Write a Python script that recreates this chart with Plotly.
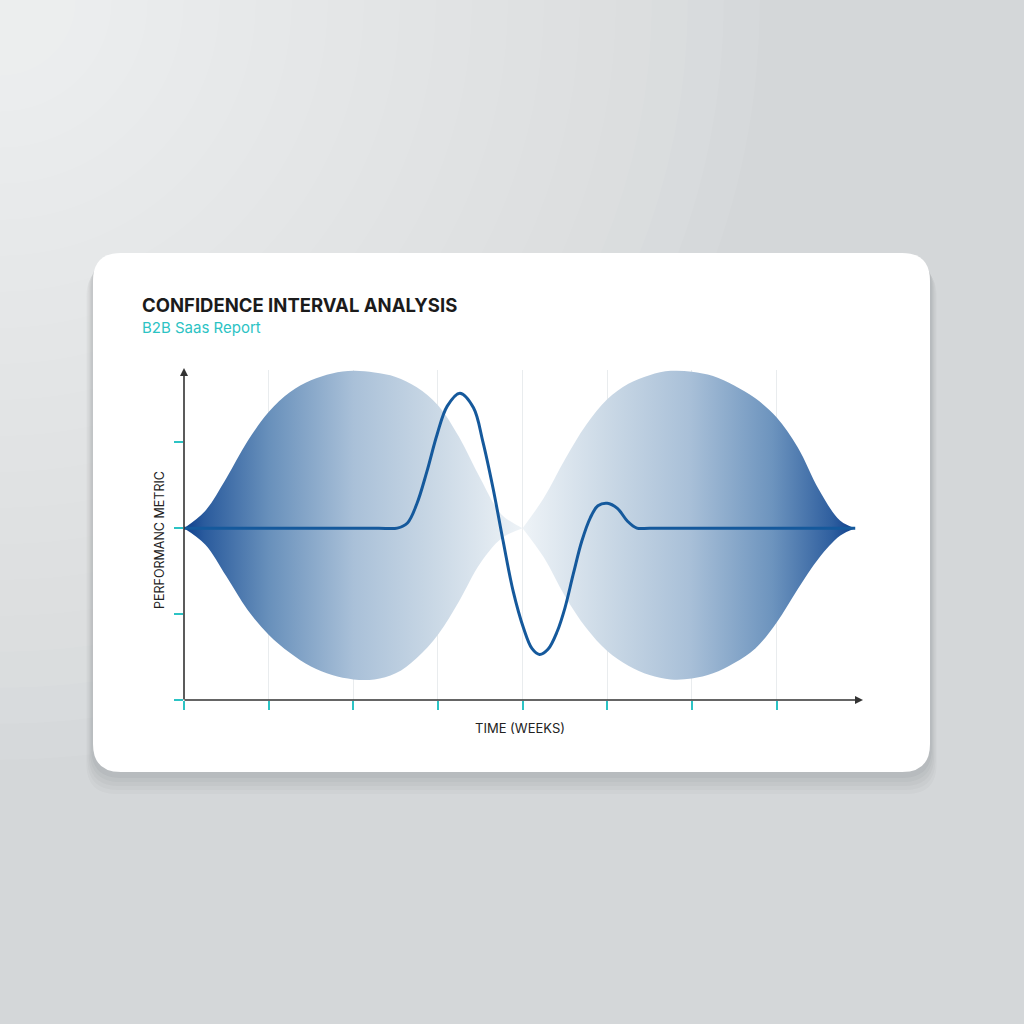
import plotly.graph_objects as go

# ---------------- data ----------------
weeks_ticks = [0, 1, 2, 3, 4, 5, 6, 7]
metric_ticks = [-2, -1, 0, 1]

band1_x     = [0.0, 0.25, 0.5, 0.75, 1.0, 1.25, 1.5, 1.75, 2.0, 2.25, 2.5, 2.75, 3.0, 3.25, 3.5, 3.75, 4.0]
band1_upper = [0.0, 0.20, 0.58, 1.01, 1.35, 1.58, 1.72, 1.80, 1.83, 1.81, 1.76, 1.64, 1.43, 1.06, 0.58, 0.16, 0.0]
band1_lower = [0.0, -0.19, -0.56, -0.95, -1.24, -1.45, -1.61, -1.71, -1.76, -1.76, -1.69, -1.51, -1.24, -0.85, -0.41, -0.12, 0.0]

band2_x     = [4.0, 4.25, 4.5, 4.75, 5.0, 5.25, 5.5, 5.75, 6.0, 6.25, 6.5, 6.75, 7.0, 7.25, 7.5, 7.75, 7.93]
band2_upper = [0.0, 0.35, 0.80, 1.20, 1.50, 1.68, 1.78, 1.83, 1.82, 1.77, 1.66, 1.51, 1.29, 0.94, 0.45, 0.09, 0.0]
band2_lower = [0.0, -0.34, -0.79, -1.16, -1.43, -1.60, -1.71, -1.76, -1.75, -1.69, -1.57, -1.40, -1.10, -0.71, -0.35, -0.09, 0.0]

line_x = [0.0, 0.5, 1.0, 1.5, 2.0, 2.3, 2.52, 2.64, 2.75, 2.87, 2.99, 3.11, 3.26, 3.42, 3.53, 3.65, 3.77,
          3.89, 4.01, 4.11, 4.20, 4.30, 4.41, 4.50, 4.60, 4.70, 4.80, 4.89, 5.0, 5.12, 5.24, 5.35, 5.5,
          6.0, 6.5, 7.0, 7.5, 7.93]
line_y = [0.0, 0.0, 0.0, 0.0, 0.0, 0.0, 0.0, 0.06, 0.28, 0.66, 1.09, 1.42, 1.57, 1.40, 1.01, 0.47, -0.15,
          -0.74, -1.16, -1.40, -1.47, -1.41, -1.20, -0.93, -0.53, -0.15, 0.12, 0.26, 0.29, 0.23, 0.08, 0.0, 0.0,
          0.0, 0.0, 0.0, 0.0, 0.0]

title = "CONFIDENCE INTERVAL ANALYSIS"
subtitle = "B2B Saas Report"
x_title = "TIME (WEEKS)"
y_title = "PERFORMANC METRIC"

# ---------------- style ----------------
TEAL = "#2cc3c4"
AXIS = "#333333"
LINE = "#15599c"
W = H = 1024


def px(x):
    return x / W


def py(y):
    return 1 - y / H


def rounded_rect(x0, y0, x1, y1, r):
    X0, X1 = px(x0), px(x1)
    Y0, Y1 = py(y1), py(y0)
    rx, ry = r / W, r / H
    return (f"M {X0+rx},{Y0} L {X1-rx},{Y0} Q {X1},{Y0} {X1},{Y0+ry} "
            f"L {X1},{Y1-ry} Q {X1},{Y1} {X1-rx},{Y1} L {X0+rx},{Y1} "
            f"Q {X0},{Y1} {X0},{Y1-ry} L {X0},{Y0+ry} Q {X0},{Y0} {X0+rx},{Y0} Z")


fig = go.Figure()

scale1 = [[0, "#0e3e8c"], [0.06, "#2a5b9d"], [0.25, "#6890bb"], [0.5, "#a9c0d8"],
          [0.75, "#cbd9e6"], [1, "#eef3f7"]]
scale2 = [[0, "#eef3f7"], [0.25, "#cbd9e6"], [0.5, "#a9c0d8"], [0.75, "#6d94be"],
          [0.93, "#2f5f9f"], [1, "#0e3e8c"]]

edge = dict(width=0, shape="spline", smoothing=1.0, simplify=False)

fig.add_trace(go.Scatter(x=band1_x, y=band1_lower, mode="lines", line=edge,
                         hoverinfo="skip", showlegend=False))
fig.add_trace(go.Scatter(x=band1_x, y=band1_upper, mode="lines", line=edge,
                         fill="tonexty",
                         fillgradient=dict(type="horizontal", colorscale=scale1, start=0, stop=4.0),
                         hoverinfo="skip", showlegend=False))
fig.add_trace(go.Scatter(x=band2_x, y=band2_lower, mode="lines", line=edge,
                         hoverinfo="skip", showlegend=False))
fig.add_trace(go.Scatter(x=band2_x, y=band2_upper, mode="lines", line=edge,
                         fill="tonexty",
                         fillgradient=dict(type="horizontal", colorscale=scale2, start=4.0, stop=7.93),
                         hoverinfo="skip", showlegend=False))
fig.add_trace(go.Scatter(x=line_x, y=line_y, mode="lines",
                         line=dict(color=LINE, width=3, shape="spline", smoothing=1.0, simplify=False),
                         hoverinfo="skip", showlegend=False))

shapes = []
# background glow (top-left)
for i in range(20):
    r = 760 - i * 36
    shapes.append(dict(type="circle", xref="paper", yref="paper",
                       x0=px(-r), x1=px(r), y0=py(r), y1=py(-r),
                       fillcolor="rgba(255,255,255,0.055)", line=dict(width=0), layer="below"))
# card shadow
for i, a in enumerate([0.03, 0.03, 0.035, 0.04, 0.05]):
    off = 22 - i * 4
    shapes.append(dict(type="path", xref="paper", yref="paper",
                       path=rounded_rect(93 - off * 0.3, 253 + off * 0.6, 930 + off * 0.3, 772 + off, 30),
                       fillcolor=f"rgba(60,65,70,{a})", line=dict(width=0), layer="below"))
# card
shapes.append(dict(type="path", xref="paper", yref="paper",
                   path=rounded_rect(93, 253, 930, 772, 28),
                   fillcolor="#ffffff", line=dict(width=0), layer="below"))

fig.update_layout(shapes=shapes)

annotations = [
    dict(text=f"<b>{title}</b>", xref="paper", yref="paper", x=px(140), y=py(305),
         xanchor="left", yanchor="middle", showarrow=False,
         font=dict(family="Inter, Roboto, sans-serif", size=18.5, color="#1b1b1b")),
    dict(text=subtitle, xref="paper", yref="paper", x=px(140), y=py(327),
         xanchor="left", yanchor="middle", showarrow=False,
         font=dict(family="Inter, Roboto, sans-serif", size=15, color=TEAL)),
    dict(text=x_title, xref="paper", yref="paper", x=px(520), y=py(728),
         xanchor="center", yanchor="middle", showarrow=False,
         font=dict(family="Inter, Roboto, sans-serif", size=13, color="#222222")),
    dict(text=y_title, xref="paper", yref="paper", x=px(159), y=py(540), textangle=-90,
         xanchor="center", yanchor="middle", showarrow=False,
         font=dict(family="Inter, Roboto, sans-serif", size=12.5, color="#222222")),
    # axis arrows
    dict(xref="paper", yref="paper", x=px(184), y=py(368), ax=0, ay=333,
         showarrow=True, arrowhead=2, arrowsize=1, arrowwidth=1.6, arrowcolor=AXIS, text=""),
    dict(xref="paper", yref="paper", x=px(863), y=py(700), ax=-680, ay=0,
         showarrow=True, arrowhead=2, arrowsize=1, arrowwidth=1.6, arrowcolor=AXIS, text=""),
]

fig.update_layout(
    width=W, height=H,
    margin=dict(l=0, r=0, t=0, b=0),
    paper_bgcolor="#d4d7d9",
    plot_bgcolor="rgba(0,0,0,0)",
    annotations=annotations,
    xaxis=dict(domain=[px(184), px(862)], range=[0, 8.01], tickvals=weeks_ticks,
               showticklabels=False, ticks="outside", ticklen=9, tickwidth=1.8, tickcolor=TEAL,
               showgrid=True, gridcolor="#e9ecee", gridwidth=1, zeroline=False, showline=False,
               fixedrange=True),
    yaxis=dict(domain=[py(700), py(370)], range=[-2, 1.84], tickvals=metric_ticks,
               showticklabels=False, ticks="outside", ticklen=9, tickwidth=1.8, tickcolor=TEAL,
               showgrid=False, zeroline=False, showline=False, fixedrange=True),
)

fig.write_html("out.html")
